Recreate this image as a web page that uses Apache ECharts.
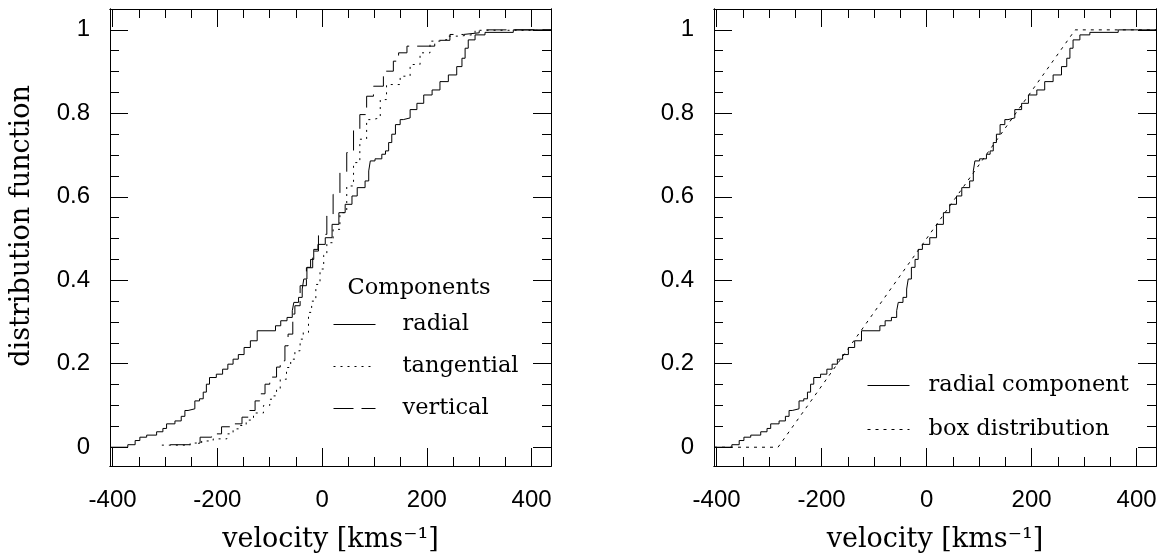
<!DOCTYPE html>
<html>
<head>
<meta charset="utf-8">
<script src="https://cdn.jsdelivr.net/npm/echarts@6/dist/echarts.min.js"></script>
<style>html,body{margin:0;padding:0;background:#fff}#c{width:1167px;height:558px}</style>
</head>
<body>
<div id="c"></div>
<script>
// ---- data ----
const radialX = [-405,-371,-357,-348,-335,-316,-304,-297,-281,-269,-262,-256,-243,-234,-227,-221,-215,-202,-190,-180,-170,-160,-149,-137,-124,-89,-79,-67,-57,-54,-45,-38,-35,-29,-22,-16,-8,6,19,32,44,57,67,82,89,92,101,114,121,127,133,140,149,155,168,181,194,210,225,241,257,267,273,279,292,311,365,437];
const radialY = [0,0.006,0.016,0.024,0.029,0.037,0.045,0.056,0.063,0.074,0.088,0.092,0.111,0.116,0.132,0.151,0.167,0.175,0.187,0.199,0.211,0.222,0.239,0.255,0.279,0.291,0.303,0.311,0.327,0.347,0.359,0.379,0.403,0.431,0.450,0.474,0.486,0.502,0.534,0.562,0.582,0.602,0.622,0.638,0.662,0.686,0.691,0.702,0.710,0.730,0.750,0.773,0.785,0.789,0.809,0.824,0.844,0.856,0.876,0.892,0.912,0.932,0.956,0.976,0.988,0.994,1.0,1.0];

const tangX = [-306,-252,-230,-208,-182,-170,-157,-145,-131,-112,-100,-93,-87,-80,-68,-60,-52,-42,-36,-26,-20,-12,-4,3,9,21,34,47,60,72,85,95,111,123,149,168,187,206,225,238,263,292,437];
const tangY = [0.005,0.01,0.015,0.02,0.032,0.044,0.052,0.065,0.082,0.1,0.115,0.123,0.139,0.163,0.191,0.211,0.231,0.259,0.275,0.323,0.35,0.39,0.427,0.46,0.49,0.522,0.562,0.626,0.682,0.738,0.785,0.789,0.833,0.869,0.889,0.917,0.945,0.973,0.977,0.985,0.989,0.999,0.999];

const vertX = [-290,-252,-233,-211,-192,-173,-153,-141,-128,-119,-109,-100,-87,-80,-71,-65,-56,-52,-42,-30,-18,-7,9,21,34,47,60,72,85,98,117,136,146,162,215,244,270,300,437];
const vertY = [0.006,0.01,0.024,0.032,0.049,0.056,0.072,0.088,0.111,0.128,0.151,0.168,0.192,0.207,0.243,0.271,0.319,0.339,0.387,0.43,0.47,0.51,0.554,0.606,0.658,0.706,0.762,0.797,0.841,0.865,0.901,0.925,0.945,0.961,0.975,0.989,0.993,1.0,1.0];

const boxX = [-405,-283,283,437];
const boxY = [0,0,1,1];

const xTickMajor = [-400,-200,0,200,400];
const xTickMinor = [-400,-350,-300,-250,-200,-150,-100,-50,0,50,100,150,200,250,300,350,400];
const yTickMajor = [0,0.2,0.4,0.6,0.8,1];
const yTickMinor = [0,0.05,0.1,0.15,0.2,0.25,0.3,0.35,0.4,0.45,0.5,0.55,0.6,0.65,0.7,0.75,0.8,0.85,0.9,0.95,1];
const xRange = [-405, 437];
const yRange = [-0.045, 1.05];

// ---- build ----
const zip = (a, b) => a.map((v, i) => [v, b[i]]);
const SERIF = '"DejaVu Serif", "Liberation Serif", serif';
const SANS = '"Liberation Sans", Arial, sans-serif';

function xAxis(g, pos, ticks, len, labels, name) {
  return {
    type: 'value', gridIndex: g, position: pos, min: xRange[0], max: xRange[1],
    axisLine: { show: true, onZero: false, lineStyle: { color: '#000', width: 1 } },
    axisTick: { show: true, inside: true, length: len, customValues: ticks, lineStyle: { color: '#000', width: 1 } },
    axisLabel: labels ? { show: true, customValues: xTickMajor, color: '#000', fontFamily: SANS, fontSize: 24, margin: 22 } : { show: false },
    splitLine: { show: false },
    name: name || '', nameLocation: 'middle', nameGap: 60,
    nameTextStyle: { fontFamily: SERIF, fontSize: 27, color: '#000' }
  };
}
function yAxis(g, pos, ticks, len, labels) {
  return {
    type: 'value', gridIndex: g, position: pos, min: yRange[0], max: yRange[1],
    axisLine: { show: true, onZero: false, lineStyle: { color: '#000', width: 1 } },
    axisTick: { show: true, inside: true, length: len, customValues: ticks, lineStyle: { color: '#000', width: 1 } },
    axisLabel: labels ? { show: true, customValues: yTickMajor, color: '#000', fontFamily: SANS, fontSize: 24, margin: 20 } : { show: false },
    splitLine: { show: false }
  };
}

const xAxes = [], yAxes = [];
[0, 1].forEach(g => {
  xAxes.push(xAxis(g, 'bottom', xTickMajor, 18, true, 'velocity [kms⁻¹]'));
  xAxes.push(xAxis(g, 'bottom', xTickMinor, 9, false));
  xAxes.push(xAxis(g, 'top', xTickMajor, 18, false));
  xAxes.push(xAxis(g, 'top', xTickMinor, 9, false));
  yAxes.push(yAxis(g, 'left', yTickMajor, 18, true));
  yAxes.push(yAxis(g, 'left', yTickMinor, 9, false));
  yAxes.push(yAxis(g, 'right', yTickMajor, 18, false));
  yAxes.push(yAxis(g, 'right', yTickMinor, 9, false));
});

function ser(name, g, data, type, step) {
  return {
    name, type: 'line', xAxisIndex: g * 4, yAxisIndex: g * 4, data,
    step: step ? 'end' : false, symbol: 'none', silent: true, animation: false,
    lineStyle: { color: '#000', width: 1, type }, itemStyle: { color: '#000' }
  };
}

const legendCommon = {
  orient: 'vertical', itemWidth: 42, itemHeight: 14, padding: 0, selectedMode: false,
  itemStyle: { opacity: 0, borderWidth: 0 },
  lineStyle: { opacity: 1, width: 1 }
};

const option = {
  backgroundColor: '#fff',
  animation: false,
  grid: [
    { left: 110, top: 9, width: 441, height: 458 },
    { left: 714, top: 9, width: 442, height: 458 }
  ],
  xAxis: xAxes,
  yAxis: yAxes,
  legend: [
    Object.assign({}, legendCommon, {
      data: ['radial', 'tangential', 'vertical'], left: 333, top: 313, itemGap: 19,
      textStyle: { fontFamily: SERIF, fontSize: 22.5, color: '#000', padding: [0, 0, 0, 22] }
    }),
    Object.assign({}, legendCommon, {
      data: ['radial component', 'box distribution'], left: 867, top: 374, itemGap: 21,
      textStyle: { fontFamily: SERIF, fontSize: 22.5, color: '#000', padding: [0, 0, 0, 14] }
    })
  ],
  graphic: [
    { type: 'text', x: 22, y: 226, rotation: Math.PI / 2,
      style: { text: 'distribution function', fontFamily: SERIF, fontSize: 27, fill: '#000', align: 'center', verticalAlign: 'middle' } },
    { type: 'text', x: 419, y: 288,
      style: { text: 'Components', fontFamily: SERIF, fontSize: 22.5, fill: '#000', align: 'center', verticalAlign: 'middle' } }
  ],
  series: [
    ser('radial', 0, zip(radialX, radialY), 'solid', true),
    ser('tangential', 0, zip(tangX, tangY), [2, 5], true),
    ser('vertical', 0, zip(vertX, vertY), [20, 8], true),
    ser('radial component', 1, zip(radialX, radialY), 'solid', true),
    ser('box distribution', 1, zip(boxX, boxY), [3, 5], false)
  ]
};

const chart = echarts.init(document.getElementById('c'), null, { renderer: 'canvas' });
chart.setOption(option);
</script>
</body>
</html>
